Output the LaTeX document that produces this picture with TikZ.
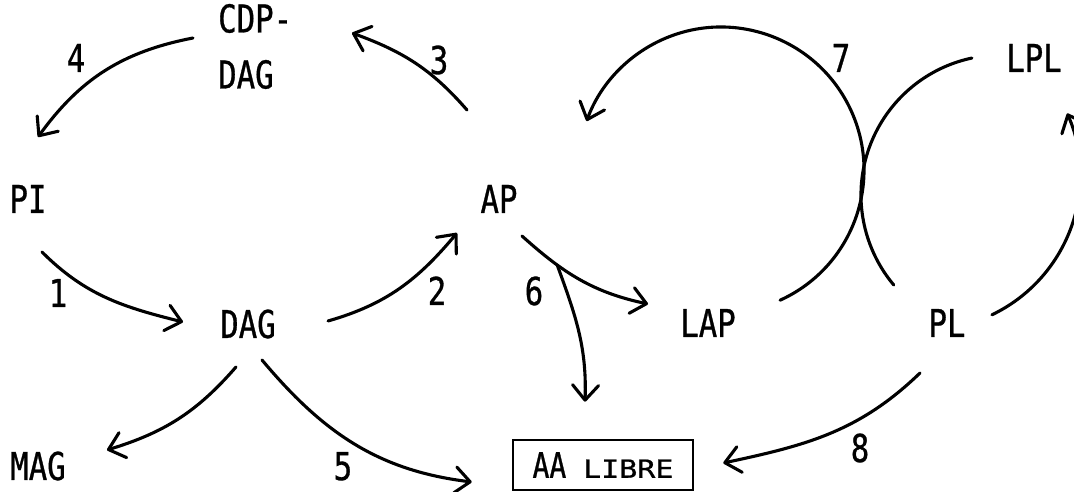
\documentclass[tikz,border=0pt]{standalone}
\usepackage{fontspec}
\newfontfamily\labfont[FakeStretch=0.8,FakeBold=0.8]{DejaVu Sans Mono}
\newfontfamily\scfont[FakeStretch=1.2,FakeBold=0.8]{DejaVu Sans Mono}
\usetikzlibrary{arrows.meta,calc}
\tikzset{
  lab/.style={font=\labfont\fontsize{38.4}{56}\selectfont, inner sep=0pt},
  spec/.style={lab, anchor=base},
  num/.style={lab, anchor=base},
  flow/.style={line width=3.1pt, line cap=round,
    -{Straight Barb[length=15pt,width=26pt,round]}},
  plain/.style={line width=3.1pt, line cap=round},
}
\begin{document}
\begin{tikzpicture}[x=1pt,y=1pt]
\useasboundingbox (0,0) rectangle (1074,492);
\clip (0,0) rectangle (1074,492);

% species
\node[lab, anchor=west, align=left] (cdp) at (218,445.5) {CDP-\\DAG};
\node[spec] (pi)  at (28,279)   {PI};
\node[spec] (ap)  at (499,279)  {AP};
\node[spec] (dag) at (248,154)  {DAG};
\node[spec] (mag) at (38,12)    {MAG};
\node[spec] (lap) at (708,155)  {LAP};
\node[spec] (pl)  at (947,155)  {PL};
\node[spec] (lpl) at (1034,420) {LPL};
\node[lab, draw, line width=2.6pt, minimum width=180pt, minimum height=50pt]
  (aa) at (603,27) {\fontsize{35}{40}\selectfont AA {\scfont\fontsize{25}{30}\selectfont LIBRE}};

% step numbers
\node[num] (n1) at (58,185)  {1};
\node[num] (n2) at (437,187) {2};
\node[num] (n3) at (439,418) {3};
\node[num] (n4) at (76,420)  {4};
\node[num] (n5) at (343,12)  {5};
\node[num] (n6) at (534,187) {6};
\node[num] (n7) at (841,420) {7};
\node[num] (n8) at (860,30)  {8};

% reactions
\draw[flow] ([shift={(14,-39)}]pi.base) to[out=-45,in=166] ([shift={(-65,16)}]dag.base);
\draw[flow] ([shift={(80,17)}]dag.base) to[out=16,in=230] ([shift={(-42,-20)}]ap.base);
\draw[flow] ([shift={(-32,103)}]ap.base) to[out=131,in=340] ([shift={(134,13.5)}]cdp.west);
\draw[flow] ([shift={(-25,8.5)}]cdp.west) to[out=191,in=54] ([shift={(10,76)}]pi.base);
\draw[flow] ([shift={(-12,-29)}]dag.base) to[out=229,in=17] ([shift={(69,30)}]mag.base);
\draw[flow] ([shift={(14,-22)}]dag.base) to[out=-50,in=173] ([shift={(-40,-17)}]aa.west);
\draw[flow] ([shift={(23,-23)}]ap.base) to[out=-42,in=168] coordinate[pos=0.3] (fork) ([shift={(-60,33)}]lap.base);
\draw[flow] (fork) to[out=-70,in=88] ([shift={(-18,37)}]aa.north);
\draw[flow] ([shift={(-27,-36)}]pl.base) to[out=224,in=12] ([shift={(29,2)}]aa.east);

% coupled transacylation: LAP -> AP with LPL -> PL, and PL -> LPL
\coordinate (c7) at (721,322);
\coordinate (cl) at (1001,297);
\coordinate (cp) at (925,317);
\draw[flow] ([shift={(-65.6:143)}]c7) arc[start angle=-65.6, end angle=160, radius=143];
\draw[plain] ([shift={(102:140)}]cl) arc[start angle=102, end angle=220, radius=140];
\draw[flow] ([shift={(-64.4:155)}]cp) arc[start angle=-64.4, end angle=23.4, radius=155];
\end{tikzpicture}
\end{document}
